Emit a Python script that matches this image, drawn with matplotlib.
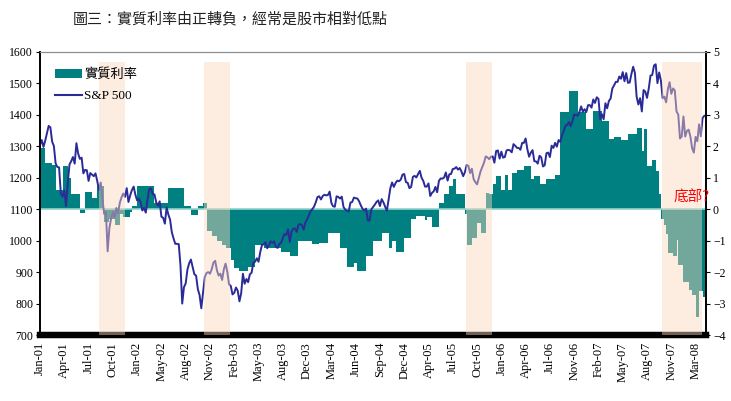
import numpy as np
import matplotlib
matplotlib.use("Agg")
import matplotlib.pyplot as plt
from matplotlib.patches import Patch
from matplotlib.lines import Line2D

plt.rcParams['font.family'] = ['Liberation Serif', 'Noto Sans CJK TC']

# 週資料 (2000/12/22 ~ 2008/04/25)
spx = [
    1305, 1320,
    # 2001
    1298, 1318, 1342, 1365, 1360, 1315, 1301, 1246, 1234, 1233, 1150, 1140, 1160,
    1110, 1183, 1242, 1253, 1266, 1245, 1310, 1277, 1260, 1264, 1214, 1225, 1224,
    1190, 1215, 1210, 1205, 1214, 1190, 1161, 1185, 1133, 1085, 1092, 966, 1040,
    1071, 1091, 1073, 1104, 1087, 1120, 1138, 1150, 1139, 1167, 1123, 1144, 1161,
    # 2002
    1172, 1146, 1128, 1134, 1122, 1096, 1104, 1089, 1131, 1164, 1166, 1148, 1147,
    1122, 1111, 1125, 1076, 1073, 1054, 1106, 1083, 1067, 1027, 1007, 990, 990,
    989, 921, 800, 852, 864, 908, 928, 940, 916, 893, 889, 846, 827,
    785, 835, 884, 897, 900, 895, 909, 930, 936, 906, 889, 895, 875,
    # 2003
    909, 927, 901, 861, 856, 829, 834, 851, 841, 807, 833, 895, 863,
    878, 868, 893, 898, 930, 933, 944, 933, 964, 987, 988, 995, 976,
    985, 998, 993, 998, 980, 977, 990, 993, 1008, 1021, 1018, 1036, 996,
    1029, 1038, 1039, 1028, 1050, 1053, 1050, 1035, 1058, 1068, 1080, 1094, 1100,
    # 2004
    1108, 1122, 1139, 1141, 1131, 1142, 1146, 1144, 1145, 1156, 1120, 1109, 1108,
    1141, 1139, 1134, 1140, 1107, 1099, 1095, 1093, 1121, 1123, 1137, 1135, 1134,
    1125, 1112, 1101, 1096, 1102, 1064, 1064, 1099, 1107, 1114, 1123, 1128, 1110,
    1132, 1122, 1108, 1095, 1130, 1167, 1185, 1171, 1183, 1191, 1189, 1194, 1210, 1212,
    # 2005
    1186, 1184, 1167, 1171, 1203, 1206, 1201, 1212, 1222, 1200, 1190, 1172, 1172,
    1182, 1142, 1152, 1157, 1171, 1154, 1190, 1198, 1197, 1201, 1217, 1191, 1211,
    1212, 1228, 1229, 1234, 1226, 1231, 1220, 1205, 1218, 1241, 1238, 1215, 1229,
    1196, 1186, 1179, 1199, 1220, 1234, 1248, 1268, 1265, 1259, 1267, 1268, 1248,
    # 2006
    1285, 1287, 1261, 1283, 1264, 1266, 1287, 1289, 1287, 1281, 1307, 1302, 1295,
    1295, 1289, 1311, 1311, 1325, 1291, 1267, 1280, 1288, 1253, 1252, 1245, 1270,
    1265, 1236, 1240, 1278, 1280, 1266, 1302, 1295, 1311, 1299, 1320, 1314, 1336,
    1349, 1366, 1368, 1377, 1364, 1380, 1401, 1400, 1397, 1409, 1427, 1410, 1418,
    # 2007
    1409, 1431, 1431, 1423, 1449, 1438, 1456, 1451, 1387, 1402, 1386, 1437, 1421,
    1444, 1452, 1484, 1494, 1505, 1505, 1522, 1515, 1536, 1507, 1533, 1502, 1503,
    1530, 1553, 1534, 1458, 1433, 1453, 1411, 1479, 1474, 1454, 1484, 1525, 1527,
    1557, 1561, 1501, 1535, 1509, 1453, 1458, 1440, 1481, 1504, 1467, 1484, 1478,
    # 2008
    1411, 1401, 1325, 1331, 1395, 1331, 1349, 1353, 1331, 1294, 1280, 1330, 1316,
    1370, 1332, 1390, 1397,
]

# 實質利率: 變動起點(週序) 與 數值
rate_start = [0, 3, 7, 9, 13, 16, 18, 23, 26, 30, 33, 37, 40, 43, 46, 48, 52, 53,
              56, 66, 74, 83, 87, 91, 94, 96, 99, 102, 105, 107, 110, 112, 115,
              120, 124, 129, 139, 144, 149, 154, 157, 161, 166, 173, 177, 181,
              183, 188, 192, 197, 201, 203, 205, 210, 214, 217, 222, 223, 226,
              230, 233, 236, 238, 240, 245, 246, 249, 252, 254, 257, 259, 261,
              263, 266, 268, 270, 272, 275, 279, 283, 285, 288, 292, 297, 300,
              305, 310, 315, 319, 324, 328, 331, 335, 339, 344, 347, 348, 350,
              353, 355, 357, 358, 360, 361, 362, 365, 367, 368, 371, 374, 376,
              378, 380, 382]
rate_value = [1.95, 1.48, 1.40, 0.6, 1.37, 1.0, 0.47, -0.12, 0.55, 0.36, 0.73,
              -0.4, -0.3, -0.5, -0.15, -0.25, -0.1, 0.1, 0.75, 0.2, 0.67, 0.1,
              -0.17, 0.1, 0.2, -0.7, -0.86, -1.0, -1.13, -1.24, -1.6, -1.87,
              -1.98, -1.83, -1.13, -1.24, -1.35, -1.5, -1.02, -1.0, -1.1, -1.07,
              -0.76, -1.24, -1.85, -1.7, -1.98, -1.5, -1.02, -0.76, -1.24, -1.0,
              -1.35, -0.9, -0.3, -0.2, -0.35, -0.25, -0.55, 0.2, 0.47, 0.73,
              0.95, 0.47, -0.15, -1.13, -0.9, -0.45, -0.76, 0.52, 0.47, 0.79,
              1.05, 0.6, 1.1, 0.6, 1.16, 1.26, 1.37, 0.95, 1.05, 0.79, 0.95,
              1.1, 3.08, 3.77, 3.08, 2.55, 3.13, 2.8, 2.23, 2.3, 2.2, 2.39,
              2.58, 1.85, 2.55, 1.37, 1.55, 1.2, 0.47, -0.3, -0.5, -0.8, -1.4,
              -1.5, -0.97, -1.77, -2.3, -2.56, -2.73, -3.42, -2.6, -2.8]

# 利率由正轉負的區間 (週序)
shade_spans = [(34, 49), (94.5, 109.5), (245.5, 260.5), (358.5, 381.5)]

tick_labels = ['Jan-01', 'Apr-01', 'Jul-01', 'Oct-01', 'Jan-02', 'May-02', 'Aug-02',
               'Nov-02', 'Feb-03', 'May-03', 'Aug-03', 'Dec-03', 'Mar-04', 'Jun-04',
               'Sep-04', 'Dec-04', 'Apr-05', 'Jul-05', 'Oct-05', 'Jan-06', 'Apr-06',
               'Jul-06', 'Nov-06', 'Feb-07', 'May-07', 'Aug-07', 'Nov-07', 'Mar-08']

teal = '#008080'
navy = '#2b2b98'
n = len(spx)

fig = plt.figure(figsize=(7.31, 4.01), dpi=100)
ax = fig.add_axes([40 / 731, 66 / 401, 666 / 731, 283 / 401])
ax2 = ax.twinx()
ax.set_zorder(ax2.get_zorder() + 1)
ax.patch.set_visible(False)

# 實質利率 (右軸)
x_edges = rate_start + [n]
y_edges = rate_value + [rate_value[-1]]
ax2.fill_between(x_edges, 0, y_edges, step='post', color=teal, lw=0)
ax2.axhline(0, color='#8fd3cb', lw=1.2)
ax2.set_ylim(-4, 5)
ax2.set_yticks(range(-4, 6))

# S&P 500 (左軸)
ax.plot(np.arange(n), spx, color=navy, lw=1.4, zorder=2)
ax.set_ylim(700, 1600)
ax.set_yticks(range(700, 1700, 100))
ax.set_xlim(0, n)

for a, b in shade_spans:
    ax.axvspan(a, b, ymin=0, ymax=0.965, facecolor='#fcd9bd', alpha=0.45,
               lw=0, zorder=3)

ax.set_xticks(np.arange(0, 14 * len(tick_labels), 14))
ax.set_xticklabels(tick_labels, rotation=90)

ax.tick_params(axis='y', direction='out', length=3, labelsize=8.5, pad=2)
ax2.tick_params(axis='y', direction='out', length=3, labelsize=8.5, pad=2)
ax.tick_params(axis='x', length=0, labelsize=9, pad=5)

for a in (ax, ax2):
    a.spines['bottom'].set_linewidth(4.5)
    a.spines['bottom'].set_color('black')
    a.spines['top'].set_color('#8c8c8c')
    a.spines['left'].set_linewidth(1.2)
    a.spines['right'].set_linewidth(1.2)

handles = [Patch(facecolor=teal, edgecolor='none'),
           Line2D([0], [0], color=navy, lw=1.5)]
ax.legend(handles, ['實質利率', 'S&P 500'], loc='upper left',
          bbox_to_anchor=(0.005, 0.985), frameon=False, fontsize=9.5,
          handlelength=2.0, handleheight=0.7, handletextpad=0.2,
          labelspacing=0.7)

ax.text(365, 1135, '底部?', color='red', fontsize=10.5, ha='left',
        va='center', family=['Noto Sans CJK TC', 'DejaVu Sans'],
        clip_on=False, zorder=5)

fig.text(0.1, 0.953, '圖三：實質利率由正轉負，經常是股市相對低點',
         fontsize=10.8, family=['Noto Sans CJK TC', 'DejaVu Sans'],
         ha='left', va='center', color='#222222')

fig.savefig('out.png', dpi=100)
